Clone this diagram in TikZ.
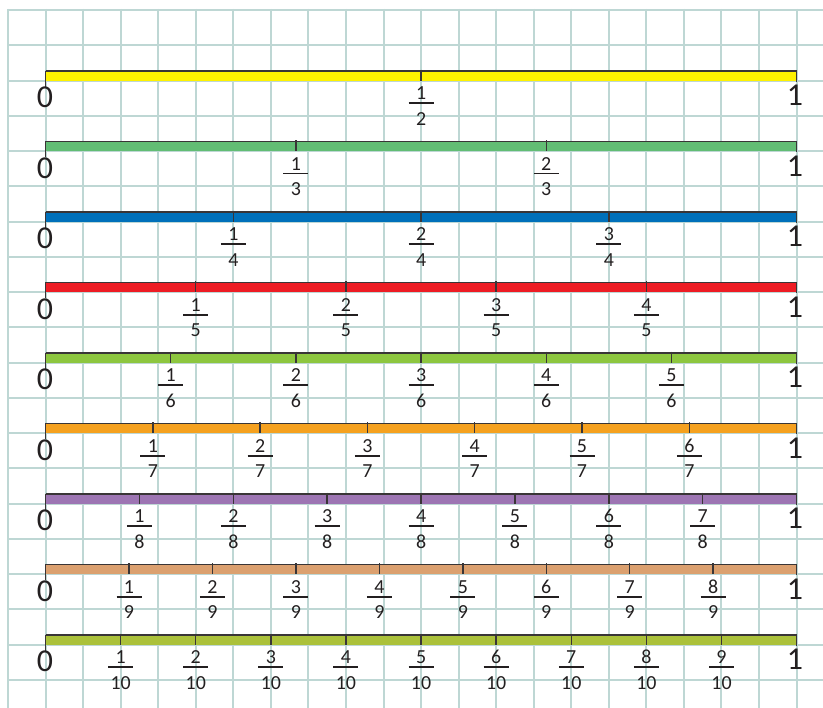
\documentclass[tikz,border=0pt]{standalone}
\usepackage{fontspec}
\setmainfont{Carlito}
\definecolor{gridc}{RGB}{190,215,212}
\definecolor{ink}{RGB}{35,31,32}
\definecolor{c2}{RGB}{255,242,0}
\definecolor{c3}{RGB}{98,189,116}
\definecolor{c4}{RGB}{0,112,186}
\definecolor{c5}{RGB}{237,28,36}
\definecolor{c6}{RGB}{141,198,63}
\definecolor{c7}{RGB}{245,161,31}
\definecolor{c8}{RGB}{157,117,179}
\definecolor{c9}{RGB}{219,160,111}
\definecolor{c10}{RGB}{171,193,58}
\begin{document}
\begin{tikzpicture}[x=1bp,y=-1bp,
  gridline/.style={draw=gridc,line width=2bp},
  edge/.style={draw=ink!90,line width=1.4bp},
  fbar/.style={draw=ink,line width=1.9bp},
  big/.style={text=ink,inner sep=0pt,anchor=base,font=\fontsize{32}{32}\selectfont},
  small/.style={text=ink,inner sep=0pt,anchor=base,font=\fontsize{20}{20}\selectfont}]
\useasboundingbox (0,0) rectangle (823,708);
\fill[white] (0,0) rectangle (823,708);
\foreach \k in {0,...,21} \draw[gridline] ({8+37.55*\k},9) -- ({8+37.55*\k},708);
\foreach \k in {0,...,19} \draw[gridline] (7,{10+35.26*\k}) -- (823,{10+35.26*\k});
\foreach \n [count=\i] in {2,...,10} {
  \pgfmathsetmacro\b{10+70.52*\i}
  \fill[c\n] (45.55,{\b-9.5}) rectangle (796.6,\b);
  \draw[edge] (45.55,{\b-9.5}) -- (796.6,{\b-9.5});
  \draw[edge] (45.55,{\b-10}) -- (45.55,{\b+6});
  \draw[edge] (796.6,{\b-10}) -- (796.6,{\b+1});
  \node[big] (z\n) at (45,{\b+27}) {0};
  \node[big] (o\n) at (795,{\b+25}) {1};
  \pgfmathtruncatemacro\m{\n-1}
  \foreach \j in {1,...,\m} {
    \pgfmathsetmacro\x{45.55+751.05*\j/\n}
    \draw[edge] (\x,{\b-11}) -- (\x,\b);
    \node[small] (nu\n-\j) at (\x,{\b+19}) {\j};
    \draw[fbar] ({\x-12.5},{\b+22.5}) -- ({\x+12.5},{\b+22.5});
    \node[small] (de\n-\j) at (\x,{\b+44.5}) {\n};
  }
}
\end{tikzpicture}
\end{document}
